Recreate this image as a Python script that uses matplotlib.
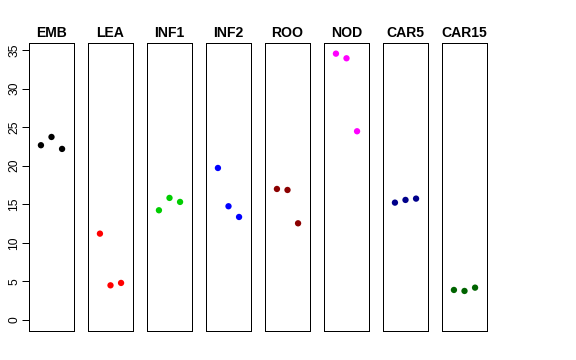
import matplotlib
matplotlib.use("Agg")
import matplotlib.pyplot as plt

groups = ["EMB", "LEA", "INF1", "INF2", "ROO", "NOD", "CAR5", "CAR15"]
colors = ["black", "red", "#00CD00", "blue", "#8B0000", "magenta", "#00008B", "#006400"]
values = [
    [22.65, 23.72, 22.17],
    [11.19, 4.49, 4.80],
    [14.22, 15.82, 15.30],
    [19.70, 14.74, 13.35],
    [16.98, 16.85, 12.53],
    [34.52, 33.92, 24.46],
    [15.21, 15.56, 15.73],
    [3.89, 3.76, 4.19],
]
yticks = [0, 5, 10, 15, 20, 25, 30, 35]
xs = [1, 2, 3]

W, H = 576, 360
fig = plt.figure(figsize=(W / 72, H / 72), dpi=72)
font = ["Liberation Sans", "DejaVu Sans"]

left0, step, width = 29, 59, 45
top, bottom = 43, 331
for i, (g, c, v) in enumerate(zip(groups, colors, values)):
    ax = fig.add_axes([(left0 + i * step) / W, (H - bottom) / H, width / W, (bottom - top) / H])
    ax.scatter(xs, v, s=40, color=c, edgecolors="none", zorder=3)
    ax.set_xlim(-0.13, 4.13)
    ax.set_ylim(-1.43, 35.9)
    ax.set_xticks([])
    for sp in ax.spines.values():
        sp.set_linewidth(1.0)
        sp.set_color("black")
    if i == 0:
        ax.set_yticks(yticks)
        ax.set_yticklabels([str(t) for t in yticks], rotation=90, va="center",
                           fontsize=12, family=font)
        ax.tick_params(axis="y", length=7, width=1, pad=2)
    else:
        ax.set_yticks([])
    ax.set_title(g, fontsize=14, fontweight="bold", family=font, pad=6)

fig.savefig("out.png", dpi=72)
